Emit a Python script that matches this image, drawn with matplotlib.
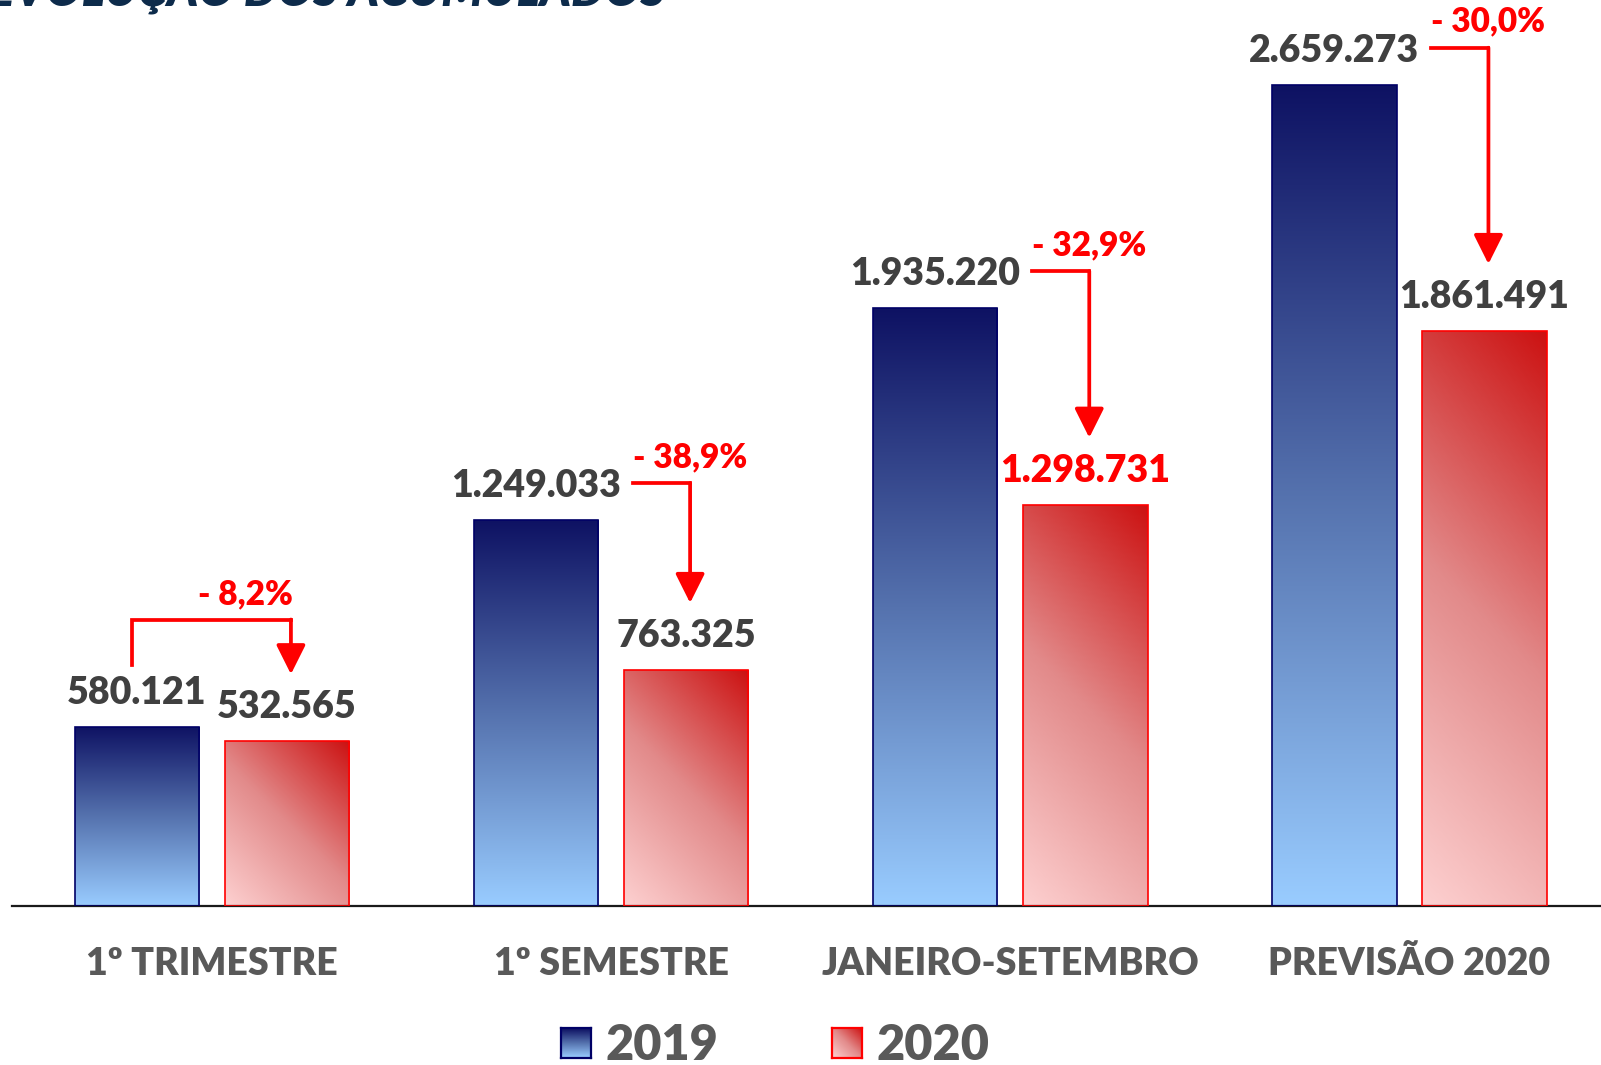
"""Evolução dos acumulados: 2019 vs 2020, barras com gradiente e setas de variação."""

import matplotlib

matplotlib.use("Agg")

import matplotlib.pyplot as plt
import matplotlib.transforms as mtransforms
import numpy as np
from matplotlib.colors import LinearSegmentedColormap

# ---------------------------------------------------------------------------
# Data
# ---------------------------------------------------------------------------

categories = ["1º TRIMESTRE", "1º SEMESTRE", "JANEIRO-SETEMBRO", "PREVISÃO 2020"]
values_2019 = [580121, 1249033, 1935220, 2659273]
values_2020 = [532565, 763325, 1298731, 1861491]
variation_labels = ["- 8,2%", "- 38,9%", "- 32,9%", "- 30,0%"]
highlight_2020 = [False, False, True, False]
series_names = ["2019", "2020"]

# ---------------------------------------------------------------------------
# Style
# ---------------------------------------------------------------------------

FONT = "Lato"
WEIGHT = "heavy"
DARK = "#404040"
GREY = "#595959"
RED = "#ff0000"
NAVY_TITLE = "#0d2b4b"

BLUE_CMAP = LinearSegmentedColormap.from_list("blue", ["#99ccff", "#5572ae", "#0e1263"])
RED_CMAP = LinearSegmentedColormap.from_list("red", ["#fdd0d0", "#e28a8a", "#cc1212"])

W_PX, H_PX = 1601, 1065
DPI = 100

BAR_W = 0.312
OFFSET = 0.188


def fill_gradient(ax, bar, cmap, diagonal, dx, dy):
    x0, y0 = bar.get_x(), bar.get_y()
    w, h = bar.get_width(), bar.get_height()
    u = np.linspace(0, 1, 64)
    v = np.linspace(0, 1, 256)
    U, V = np.meshgrid(u, v)
    if diagonal:
        # 45 degree gradient in pixel space (shape-independent angle)
        w_px, h_px = w / dx, h / dy
        Z = (U * w_px + V * h_px) / (w_px + h_px)
    else:
        Z = V
    im = ax.imshow(
        Z, extent=(x0, x0 + w, y0, y0 + h), origin="lower", cmap=cmap,
        vmin=0, vmax=1, aspect="auto", interpolation="bilinear", zorder=2,
    )
    im.set_clip_path(bar)


def fmt(v):
    return f"{v:,}".replace(",", ".")


fig = plt.figure(figsize=(W_PX / DPI, H_PX / DPI), dpi=DPI)

# axes: left edge at 12 px, baseline at 906 px from top, top at figure top
ax_left = 12.3 / W_PX
ax_bottom = 159.4 / H_PX
ax = fig.add_axes([ax_left, ax_bottom, 0.9973, 1 - ax_bottom])

ymax = 2933700
ax_h_px = H_PX - 159.4
unit_px = 399.2  # px per group
dy = ymax / ax_h_px  # data per px (vertical)
dx = 1 / unit_px     # data per px (horizontal)

x = np.arange(len(categories))
bars_a = ax.bar(x - OFFSET, values_2019, BAR_W, facecolor="none",
                edgecolor="#000066", linewidth=1.2, zorder=3)
bars_b = ax.bar(x + OFFSET, values_2020, BAR_W, facecolor="none",
                edgecolor=RED, linewidth=1.2, zorder=3)

for b in bars_a:
    fill_gradient(ax, b, BLUE_CMAP, False, dx, dy)
for b in bars_b:
    fill_gradient(ax, b, RED_CMAP, True, dx, dy)

ax.set_xlim(-0.5, 3.5)
ax.set_ylim(0, ymax)

for s in ("top", "right", "left"):
    ax.spines[s].set_visible(False)
ax.spines["bottom"].set_linewidth(1.6)
ax.spines["bottom"].set_color("#1a1a1a")
ax.set_xticks([])
ax.set_yticks([])
ax.patch.set_alpha(0)

# value labels
for i in range(len(categories)):
    ax.annotate(fmt(values_2019[i]), xy=(x[i] - OFFSET, values_2019[i]),
                xytext=(0, 16.5), textcoords="offset points",
                ha="center", va="baseline", fontsize=27, fontweight=WEIGHT,
                family=FONT, color=DARK, zorder=5)
    ax.annotate(fmt(values_2020[i]), xy=(x[i] + OFFSET, values_2020[i]),
                xytext=(0, 16.5), textcoords="offset points",
                ha="center", va="baseline", fontsize=27, fontweight=WEIGHT,
                family=FONT, color=RED if highlight_2020[i] else DARK, zorder=5)

# variation arrows
line_kw = dict(color=RED, lw=2.7, solid_capstyle="projecting",
               solid_joinstyle="miter", zorder=4)
for i in range(len(categories)):
    xa = x[i] - OFFSET
    xb = x[i] + OFFSET
    arrow_x = xb + 4 * dx
    tip_y = values_2020[i] + 67 * dy
    if i == 0:
        top_y = values_2019[i] + 107 * dy
        left_x = xa - 5 * dx
        ax.plot([left_x, left_x, arrow_x], [values_2019[i] + 62 * dy, top_y, top_y], **line_kw)
        ax.text(arrow_x + 2 * dx, top_y + 15 * dy, variation_labels[i],
                ha="right", va="baseline", fontsize=24, fontweight=WEIGHT,
                family=FONT, color=RED)
    else:
        top_y = values_2019[i] + 37 * dy
        ax.plot([xa + 97 * dx, arrow_x], [top_y, top_y], **line_kw)
        ax.text(arrow_x, top_y + 16 * dy, variation_labels[i],
                ha="center", va="baseline", fontsize=24, fontweight=WEIGHT,
                family=FONT, color=RED)
    ax.annotate("", xy=(arrow_x, tip_y), xytext=(arrow_x, top_y),
                arrowprops=dict(arrowstyle="-|>,head_length=0.6,head_width=0.3",
                                mutation_scale=30, lw=2.7, color=RED,
                                shrinkA=0, shrinkB=0), zorder=4)

# category labels
trans = mtransforms.blended_transform_factory(ax.transData, fig.transFigure)
for i, cat in enumerate(categories):
    ax.text(x[i], 90 / H_PX, cat, transform=trans, ha="center", va="baseline",
            fontsize=27, fontweight=WEIGHT, family=FONT, color=GREY)

# legend (manual, gradient squares)
legend_items = [(561, BLUE_CMAP, False, "#000066"), (832, RED_CMAP, True, RED)]
for (sx, cmap, diag, edge), name in zip(legend_items, series_names):
    sax = fig.add_axes([sx / W_PX, 7 / H_PX, 30 / W_PX, 30 / H_PX])
    u = np.linspace(0, 1, 32)
    U, V = np.meshgrid(u, u)
    Z = (U + V) / 2 if diag else V
    sax.imshow(Z, origin="lower", cmap=cmap, vmin=0, vmax=1, aspect="auto",
               extent=(0, 1, 0, 1))
    sax.set_xticks([])
    sax.set_yticks([])
    for sp in sax.spines.values():
        sp.set_color(edge)
        sp.set_linewidth(1.6)
    fig.text((sx + 44) / W_PX, 5 / H_PX, name, ha="left", va="baseline",
             fontsize=35, fontweight=WEIGHT, family=FONT, color=GREY)

# title, cut off at the top edge
fig.text(665 / W_PX, 1060 / H_PX, "EVOLUÇÃO DOS ACUMULADOS", ha="right",
         va="baseline", fontsize=34, fontweight=WEIGHT, fontstyle="italic",
         family=FONT, color=NAVY_TITLE)

fig.savefig("out.png", dpi=DPI)
